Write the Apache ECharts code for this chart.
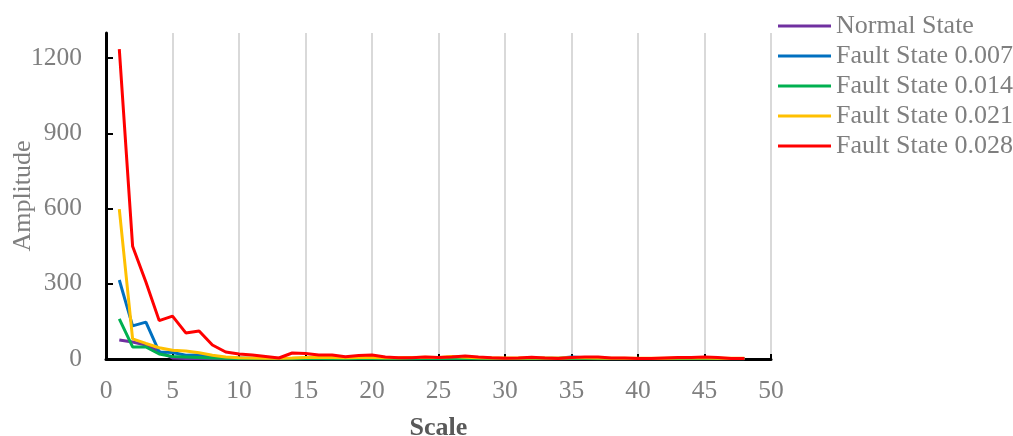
<!DOCTYPE html>
<html><head><meta charset="utf-8">
<script src="https://cdn.jsdelivr.net/npm/echarts@6/dist/echarts.min.js"></script>
<style>html,body{margin:0;padding:0;background:#fff}#c{width:1013px;height:436px}</style>
</head><body><div id="c"></div>
<script>
const scales = Array.from({length:48},(_,i)=>i+1);
const seriesNames = ['Normal State','Fault State 0.007','Fault State 0.014','Fault State 0.021','Fault State 0.028'];
const normalState = [76,68,56,30,4,2,2,1,1,1,1,1,1,1,1,1,1,1,1,1,1,1,1,1,1,1,1,1,1,1,1,1,1,1,1,1,1,1,1,1,1,1,1,1,1,1,1,1];
const fault007 = [315,132,147,28,26,15,16,8,5,4,3,3,2,2,3,3,2,2,3,3,2,2,2,3,4,8,4,3,2,2,2,2,3,3,8,5,3,2,2,2,2,2,2,3,3,2,2,2];
const fault014 = [160,48,48,20,10,8,6,4,3,2,2,2,1,1,2,2,1,1,2,2,1,1,1,2,2,3,2,1,1,1,1,2,1,1,2,2,1,1,1,1,1,1,1,1,2,1,1,1];
const fault021 = [598,80,62,45,35,32,25,15,8,5,4,3,3,4,6,7,6,5,6,6,5,5,6,7,6,10,7,5,4,4,4,5,4,4,5,5,4,3,3,3,3,3,4,4,4,3,3,3];
const fault028 = [1236,450,307,153,171,104,112,56,28,20,16,10,4,24,22,16,16,9,14,16,8,5,5,8,6,8,12,8,5,3,4,7,4,2,6,8,8,4,4,2,2,4,6,6,8,6,2,2];
const seriesData = [normalState, fault007, fault014, fault021, fault028];
const colors = ['#7030A0','#0070C0','#00B050','#FFC000','#FF0000'];
const xTicks = [0,5,10,15,20,25,30,35,40,45,50];
const yTicks = [0,300,600,900,1200];

const chart = echarts.init(document.getElementById('c'));
const font = 'Liberation Serif, Times New Roman, serif';
chart.setOption({
  animation:false,
  grid:{left:106,right:242,top:33,bottom:77,outerBoundsMode:'none',containLabel:false},
  legend:{
    orient:'vertical', left:773, top:8, itemWidth:53, itemHeight:3, itemGap:4, icon:'rect',
    textStyle:{fontFamily:font,fontSize:26,color:'#7f7f7f',lineHeight:26},
    data:seriesNames
  },
  xAxis:{
    type:'value', min:0, max:50, interval:5,
    name:'Scale', nameLocation:'middle', nameGap:56, nameMoveOverlap:false,
    nameTextStyle:{fontFamily:font,fontSize:26,fontWeight:'bold',color:'#595959'},
    axisLine:{show:true,onZero:false,lineStyle:{color:'#000',width:3}},
    axisTick:{show:true,inside:true,length:5,lineStyle:{color:'#000',width:2}},
    axisLabel:{fontFamily:font,fontSize:25.5,color:'#7f7f7f',margin:19,
      formatter:v=>xTicks.includes(v)?String(v):''},
    splitLine:{show:true,lineStyle:{color:'#d9d9d9',width:2}}
  },
  yAxis:{
    type:'value', min:0, max:1300, interval:300,
    name:'Amplitude', nameLocation:'middle', nameGap:70, nameRotate:90, nameMoveOverlap:false,
    nameTextStyle:{fontFamily:font,fontSize:26,color:'#7f7f7f'},
    axisLine:{show:true,lineStyle:{color:'#000',width:3}},
    axisTick:{show:true,inside:true,length:7,lineStyle:{color:'#000',width:2}},
    axisLabel:{fontFamily:font,fontSize:25.5,color:'#7f7f7f',margin:24,showMaxLabel:false,
      formatter:v=>yTicks.includes(v)?String(v):''},
    splitLine:{show:false}
  },
  series: seriesNames.map((n,i)=>({
    name:n, type:'line', showSymbol:false, symbol:'none',
    data: scales.map((s,j)=>[s, seriesData[i][j]]),
    lineStyle:{color:colors[i],width:3}, itemStyle:{color:colors[i]}, z:2+i
  }))
});
</script></body></html>
